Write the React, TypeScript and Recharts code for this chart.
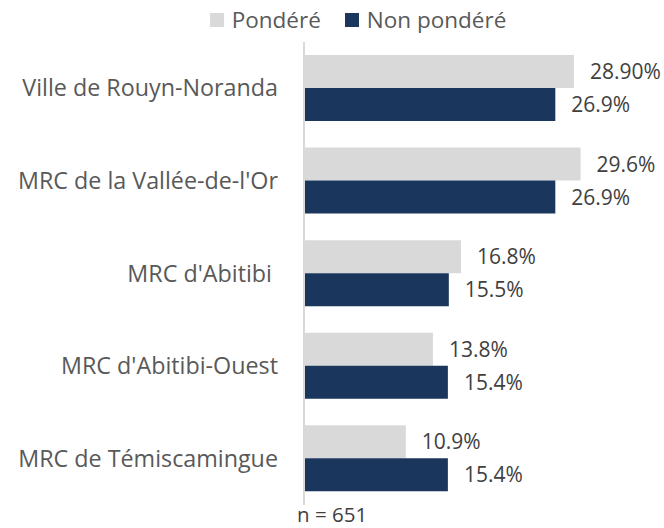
import { BarChart, Bar, XAxis, YAxis, Legend, LabelList } from "recharts";

const categories = [
  "Ville de Rouyn-Noranda",
  "MRC de la Vallée-de-l'Or",
  "MRC d'Abitibi ",
  "MRC d'Abitibi-Ouest",
  "MRC de Témiscamingue",
];
const pondere = [28.9, 29.6, 16.8, 13.8, 10.9];
const nonPondere = [26.9, 26.9, 15.5, 15.4, 15.4];
const pondereLabels = ["28.90%", "29.6%", "16.8%", "13.8%", "10.9%"];
const nonPondereLabels = ["26.9%", "26.9%", "15.5%", "15.4%", "15.4%"];

const data = categories.map((name, i) => ({
  name,
  pondere: pondere[i],
  nonPondere: nonPondere[i],
  pondereLabel: pondereLabels[i],
  nonPondereLabel: nonPondereLabels[i],
}));

const FONT = "'Open Sans', sans-serif";

const CategoryTick = ({ x, y, payload }: any) => (
  <text
    x={x}
    y={y}
    dy={8}
    textAnchor="end"
    fill="#595959"
    fontSize={23.3}
    fontFamily={FONT}
    style={{ whiteSpace: "pre" }}
  >
    {payload.value}
  </text>
);

const customLegend = () => (
  <div
    style={{
      display: "flex",
      justifyContent: "center",
      alignItems: "center",
      gap: 24,
      fontFamily: FONT,
      fontSize: 22.5,
      color: "#595959",
      paddingLeft: 52,
    }}
  >
    <span style={{ display: "flex", alignItems: "center", gap: 8 }}>
      <span style={{ width: 14, height: 14, background: "#D9D9D9", display: "inline-block" }} />
      Pondéré
    </span>
    <span style={{ display: "flex", alignItems: "center", gap: 8 }}>
      <span style={{ width: 14, height: 14, background: "#1A365D", display: "inline-block" }} />
      Non pondéré
    </span>
  </div>
);

export default function App() {
  return (
    <div style={{ position: "absolute", left: 0, top: 0, width: 664, height: 528, background: "#fff" }}>
      <BarChart
        width={664}
        height={528}
        data={data}
        layout="vertical"
        barGap={0}
        barCategoryGap="14%"
        margin={{ top: 42, right: 33, left: 0, bottom: 23 }}
      >
        <XAxis type="number" domain={[0, 35]} hide />
        <YAxis
          type="category"
          dataKey="name"
          width={304}
          tickLine={false}
          tickSize={0}
          tickMargin={26}
          axisLine={{ stroke: "#D9D9D9", strokeWidth: 2 }}
          tick={<CategoryTick />}
        />
        <Legend
          content={customLegend}
          verticalAlign="middle"
          wrapperStyle={{ top: 4, left: 0, width: 664 }}
        />
        <Bar dataKey="pondere" name="Pondéré" fill="#D9D9D9" isAnimationActive={false}>
          <LabelList
            dataKey="pondereLabel"
            position="right"
            offset={16}
            fill="#404040"
            fontSize={21}
            fontFamily={FONT}
          />
        </Bar>
        <Bar dataKey="nonPondere" name="Non pondéré" fill="#1A365D" isAnimationActive={false}>
          <LabelList
            dataKey="nonPondereLabel"
            position="right"
            offset={16}
            fill="#404040"
            fontSize={21}
            fontFamily={FONT}
          />
        </Bar>
      </BarChart>
      <div
        style={{
          position: "absolute",
          left: 297,
          top: 503,
          fontFamily: FONT,
          fontSize: 20.5,
          color: "#404040",
          lineHeight: "22px",
        }}
      >
        n = 651
      </div>
    </div>
  );
}
